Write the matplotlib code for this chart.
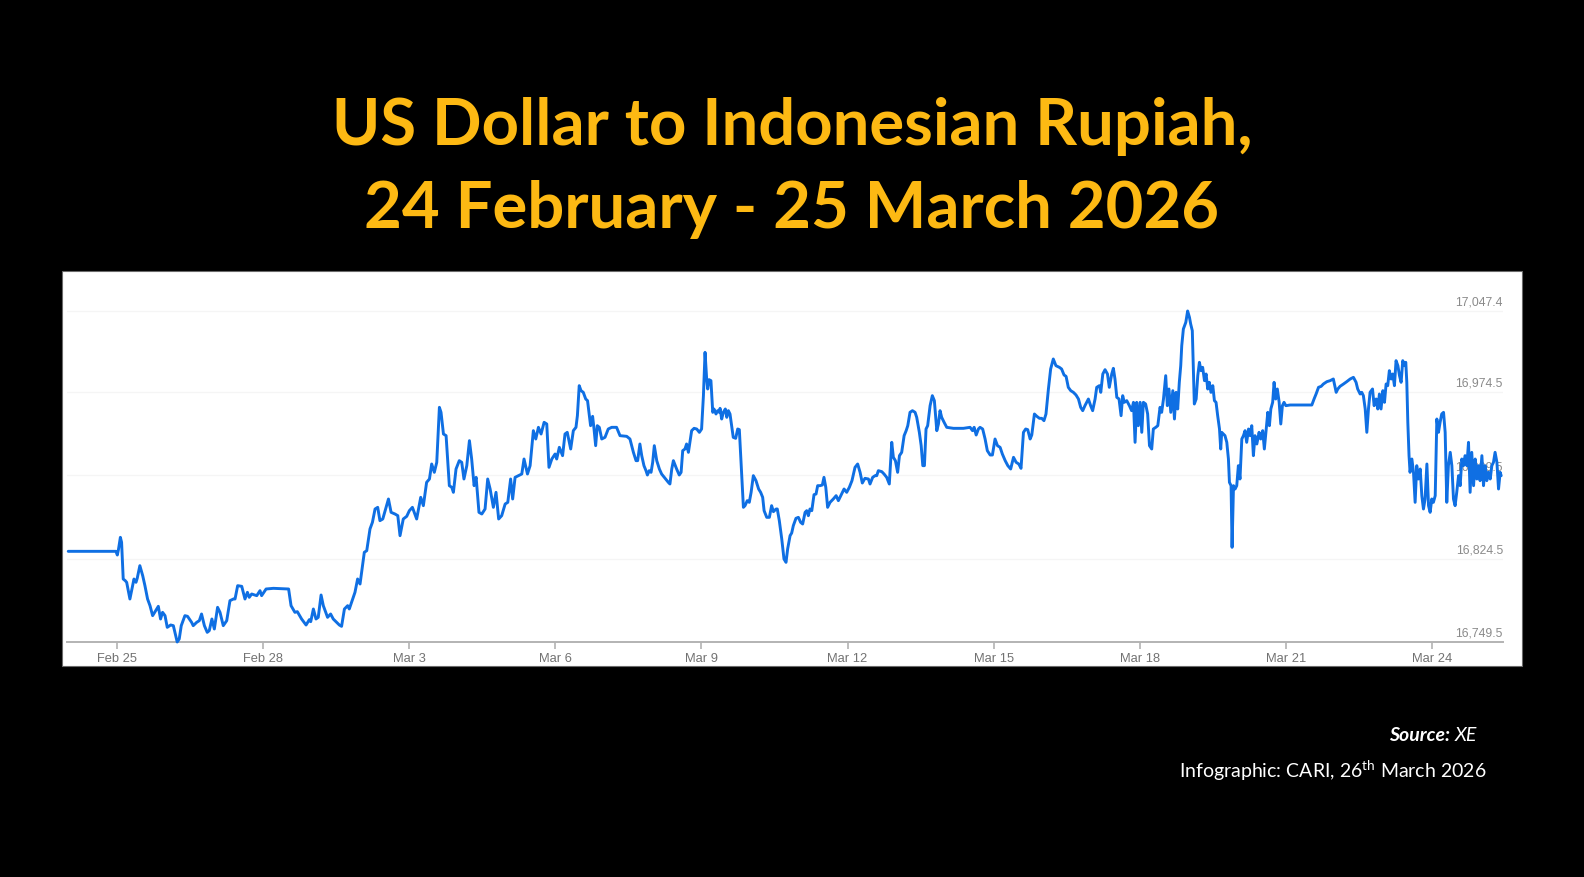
import matplotlib
matplotlib.use("Agg")
import matplotlib.pyplot as plt
from matplotlib.patches import Rectangle
import matplotlib.transforms as mtransforms
from datetime import datetime

# ---------------- data (hours since 24 Feb 2026 00:00, USD/IDR rate) ----------------
hours_wk1 = [0.0, 23.5, 24.2, 24.8, 25.7, 26.3, 27.1, 28.1, 28.8, 30.4, 32.4, 33.4, 34.0, 35.3, 36.7, 37.8,
             39.1, 40.3, 41.6, 43.6, 44.4, 45.5, 46.5, 47.7, 48.8, 50.5, 51.8, 53.7, 54.7, 55.7, 57.5, 58.8,
             60.8, 61.6, 63.3, 64.6, 65.7, 67.1, 68.5, 69.5, 70.8, 72.0, 73.6, 74.8, 76.4, 78.1, 79.7, 81.4,
             82.2, 83.5, 85.5, 87.1, 88.3, 89.2, 90.4, 92.9, 94.5, 95.3, 97.5, 101.1, 108.6, 109.8, 111.7,
             112.9, 115.0, 117.2, 118.8, 119.5, 120.8, 122.1, 123.2, 124.6, 125.7, 127.8, 129.3, 130.6,
             133.6, 134.7, 136.1, 137.7, 138.5, 140.2, 141.3, 142.6, 143.8, 145.9, 147.1, 148.7, 149.9,
             151.2, 152.5, 153.6, 155.0, 157.8, 159.1, 161.0, 162.4, 163.5, 165.1, 166.8, 168.1, 169.6,
             171.7, 173.7, 175.0, 176.6, 178.0, 179.1, 180.4, 181.6, 182.9, 183.7, 184.9, 186.2, 187.8,
             189.0, 189.8, 191.1, 192.7, 193.9, 195.0, 196.4, 197.7, 198.8, 200.0, 201.0, 202.4, 203.8,
             205.4, 206.7, 207.9, 209.5, 210.8, 212.1, 213.6, 215.3, 216.6, 218.0, 219.0, 220.2, 221.8,
             223.5, 224.6, 226.3, 227.6, 229.2, 230.4, 231.7, 233.0, 234.5, 235.8, 236.9, 238.3, 239.9,
             240.7, 242.0]
rates_wk1 = [16831.1, 16831.1, 16827.8, 16833.2, 16843.7, 16839.2, 16806.2, 16804.7, 16803.2, 16788.2,
             16806.2, 16803.2, 16806.8, 16818.2, 16809.2, 16800.2, 16788.2, 16782.2, 16773.2, 16779.2,
             16781.6, 16770.2, 16776.2, 16773.2, 16762.7, 16764.8, 16764.2, 16749.5, 16752.2, 16764.2,
             16773.2, 16772.6, 16767.2, 16764.2, 16767.2, 16768.7, 16774.7, 16764.2, 16758.2, 16759.7,
             16770.2, 16761.2, 16780.7, 16776.2, 16764.2, 16768.7, 16786.7, 16788.2, 16788.2, 16800.2,
             16799.6, 16788.2, 16794.2, 16789.7, 16792.7, 16791.2, 16795.7, 16791.2, 16797.2, 16797.8,
             16797.2, 16782.2, 16776.2, 16776.8, 16770.2, 16764.8, 16769.6, 16767.8, 16779.2, 16770.2,
             16771.7, 16791.8, 16782.2, 16771.7, 16774.7, 16770.2, 16764.8, 16763.6, 16779.2, 16782.2,
             16779.2, 16788.2, 16794.2, 16806.2, 16801.7, 16830.2, 16831.7, 16851.2, 16857.2, 16869.2,
             16870.7, 16858.7, 16860.2, 16878.2, 16866.2, 16864.7, 16863.2, 16845.2, 16860.2, 16862.6,
             16867.7, 16870.7, 16860.2, 16879.7, 16872.2, 16893.2, 16896.2, 16909.7, 16902.2, 16911.2,
             16960.7, 16956.2, 16936.7, 16935.2, 16890.2, 16888.7, 16884.2, 16905.2, 16912.7, 16911.2,
             16896.2, 16908.2, 16930.7, 16914.2, 16890.2, 16897.7, 16866.2, 16864.7, 16869.2, 16896.2,
             16887.2, 16870.7, 16884.2, 16860.2, 16863.2, 16873.7, 16875.2, 16896.2, 16878.2, 16897.7,
             16899.2, 16900.7, 16914.2, 16900.7, 16908.2, 16939.7, 16932.2, 16942.7, 16936.7, 16947.2,
             16945.7, 16906.7, 16914.2, 16918.7, 16914.2, 16924.7]

hours_wk2 = [243.6, 244.8, 245.9, 247.6, 248.9, 250.2, 250.9, 251.8, 252.7, 253.8, 255.0, 255.9, 257.4,
             258.4, 259.1, 259.9, 260.7, 261.7, 262.9, 264.5, 266.1, 267.8, 270.2, 271.9, 275.2, 276.8,
             278.5, 279.8, 280.6, 281.7, 282.6, 283.7, 284.7, 285.4, 286.3, 287.2, 288.0, 288.8, 290.0,
             291.3, 292.4, 294.1, 295.7, 296.5, 297.4, 298.2, 299.8, 301.1, 302.0, 302.8, 303.9, 304.7,
             305.6, 307.2, 308.4, 309.7, 311.0, 312.1, 313.0, 313.8, 314.6, 315.1, 315.8, 316.7, 317.6,
             318.2, 319.2, 320.0, 320.8, 321.2, 322.0, 322.8, 323.8, 324.5, 325.3, 326.1, 326.9, 327.7,
             328.9, 329.9, 330.7, 331.9, 332.7, 333.5, 334.6, 335.6, 336.5, 337.6, 338.9, 340.2, 341.2,
             342.2, 342.9, 344.2, 345.5, 346.6, 347.5, 348.8, 349.4, 350.4, 351.6, 352.7, 353.7, 354.5,
             355.7, 356.5, 357.3, 358.6, 359.8, 360.9, 361.9, 363.1, 363.9, 364.7, 365.5, 366.4, 367.5,
             368.5, 369.3, 370.5, 371.6, 372.4, 373.3, 374.2, 375.4, 377.0, 378.4, 379.5, 381.1, 382.3,
             383.6, 384.9, 386.2, 387.7, 389.0, 390.2, 391.3, 392.6, 394.3, 395.1, 396.4, 397.6, 398.4,
             399.2, 400.9, 402.0, 403.3, 404.6, 405.8, 406.6, 407.6, 408.7, 409.6, 410.7, 411.9, 412.9,
             413.7, 414.8, 416.0, 417.3, 418.1, 419.4, 420.3, 421.1, 421.9, 422.7, 423.5, 424.7, 425.8,
             426.8, 428.0, 428.8, 429.6, 430.4, 431.6, 432.9, 436.2, 441.1, 444.4, 445.6, 446.4, 447.4,
             448.5, 449.3, 450.6, 451.8, 452.9, 454.3, 455.4, 456.7, 457.9, 459.2, 460.3, 461.7, 463.0,
             464.4, 465.8, 467.1, 468.4, 469.5, 470.7, 471.8, 472.8, 474.0, 474.8, 476.1, 477.3, 478.6]
rates_wk2 = [16917.2, 16936.7, 16938.2, 16923.2, 16939.7, 16942.7, 16953.2, 16980.2, 16975.7, 16974.2,
             16968.2, 16966.7, 16944.2, 16952.6, 16941.2, 16926.2, 16944.2, 16942.7, 16932.2, 16933.7,
             16941.2, 16942.7, 16942.7, 16935.2, 16934.6, 16932.2, 16920.2, 16912.7, 16912.7, 16927.7,
             16917.2, 16908.2, 16903.7, 16899.8, 16903.7, 16902.2, 16911.2, 16926.2, 16912.7, 16905.2,
             16900.7, 16896.8, 16893.2, 16891.7, 16905.2, 16912.7, 16905.2, 16899.8, 16902.2, 16921.7,
             16923.2, 16927.7, 16920.2, 16939.7, 16941.8, 16941.2, 16938.2, 16941.2, 16971.2, 17010.2,
             16986.2, 16977.2, 16985.6, 16984.7, 16956.2, 16959.2, 16954.7, 16957.7, 16956.2, 16959.8,
             16950.2, 16956.2, 16959.2, 16951.7, 16957.7, 16954.7, 16944.2, 16933.7, 16932.8, 16941.2,
             16940.6, 16899.2, 16870.7, 16872.2, 16876.7, 16875.2, 16884.2, 16899.2, 16894.7, 16887.2,
             16884.2, 16879.7, 16867.7, 16861.7, 16861.7, 16872.2, 16866.8, 16869.2, 16869.2, 16858.7,
             16842.2, 16824.2, 16821.2, 16833.2, 16845.2, 16847.6, 16854.2, 16860.8, 16861.7, 16857.2,
             16855.7, 16866.2, 16867.7, 16863.2, 16869.2, 16867.7, 16882.1, 16882.7, 16890.2, 16890.2,
             16890.8, 16897.7, 16888.7, 16870.7, 16875.2, 16878.2, 16881.2, 16876.7, 16882.7, 16887.2,
             16884.2, 16888.7, 16894.7, 16906.7, 16909.7, 16902.2, 16892.6, 16896.8, 16896.2, 16891.7,
             16897.7, 16899.2, 16899.2, 16903.7, 16902.8, 16900.7, 16897.7, 16891.7, 16929.2, 16915.7,
             16912.7, 16902.2, 16917.2, 16920.2, 16935.2, 16939.7, 16944.2, 16956.2, 16957.7, 16956.2,
             16951.7, 16938.2, 16926.2, 16908.2, 16908.2, 16941.2, 16944.2, 16962.2, 16971.2, 16966.7,
             16939.7, 16945.7, 16957.7, 16951.7, 16947.2, 16942.7, 16941.8, 16941.8, 16942.7, 16939.7,
             16942.7, 16935.8, 16941.2, 16942.7, 16941.2, 16932.2, 16921.7, 16917.8, 16917.8, 16932.2,
             16926.2, 16924.7, 16918.7, 16912.7, 16908.2, 16905.2, 16915.7, 16911.2, 16909.7, 16905.8,
             16938.2, 16941.2, 16940.6, 16932.2, 16935.8, 16954.7, 16952.6, 16950.8]

hours_wk3 = [479.7, 480.8, 481.8, 483.0, 484.1, 485.4, 486.7, 488.4, 489.5, 490.7, 491.7, 492.8, 494.0,
             495.3, 496.6, 497.8, 498.9, 499.9, 501.0, 502.7, 503.8, 504.8, 506.0, 506.8, 508.1, 508.8,
             509.8, 510.9, 512.1, 513.0, 514.2, 515.0, 515.8, 516.7, 517.8, 518.8, 519.6, 520.4, 521.6,
             522.9, 524.0, 524.9, 525.7, 526.5, 527.3, 528.2, 529.0, 529.8, 530.9, 531.9, 532.8, 533.9,
             534.7, 535.9, 536.9, 538.0, 538.8, 539.7, 540.8, 541.6, 542.4, 543.3, 544.3, 545.1, 545.9,
             546.7, 547.5, 548.2, 548.7, 549.5, 550.7, 551.6, 552.5, 553.1, 553.9, 554.4, 554.9, 555.8,
             556.6, 557.4, 558.2, 559.0, 559.9, 560.7, 561.5, 562.3, 563.1, 564.0, 564.8, 565.6, 566.4,
             567.3, 567.9, 568.4, 569.2, 570.0, 570.9, 571.7, 572.2, 573.0, 573.5, 574.2, 575.0, 575.8,
             576.6, 577.4, 578.3, 579.1, 579.9, 580.7, 581.6, 582.4, 583.2, 584.0, 584.8, 585.7, 586.8,
             587.6, 588.6, 589.4, 590.3, 591.1, 591.9, 592.6, 593.5, 594.2, 595.0, 595.8, 596.7, 597.5,
             598.3, 599.1, 600.0]
rates_wk3 = [16950.8, 16948.7, 16954.7, 16977.2, 16995.2, 17004.2, 16998.2, 16996.7, 16995.2, 16989.8,
             16988.6, 16978.7, 16975.7, 16974.2, 16971.8, 16968.2, 16960.7, 16957.7, 16962.2, 16968.2,
             16962.2, 16957.7, 16968.2, 16978.7, 16980.2, 16974.2, 16990.7, 16994.6, 16990.7, 16978.7,
             16990.7, 16995.8, 16986.2, 16969.7, 16968.2, 16953.2, 16971.2, 16965.2, 16966.7, 16962.2,
             16957.7, 16965.2, 16929.2, 16965.2, 16944.2, 16965.2, 16938.2, 16965.2, 16963.7, 16954.7,
             16926.2, 16923.2, 16941.2, 16942.7, 16944.2, 16960.7, 16956.2, 16968.2, 16989.2, 16962.2,
             16977.2, 16956.2, 16975.7, 16950.2, 16974.2, 16959.2, 16983.2, 16998.2, 17016.2, 17031.2,
             17037.2, 17047.4, 17041.7, 17035.7, 17029.7, 16995.2, 16963.7, 16968.2, 16989.2, 17001.2,
             16993.7, 16996.7, 16984.7, 16990.7, 16977.2, 16983.2, 16974.2, 16980.2, 16966.7, 16965.2,
             16953.2, 16941.2, 16923.2, 16938.2, 16936.7, 16935.2, 16929.2, 16914.2, 16893.2, 16890.2,
             16834.7, 16890.2, 16887.2, 16890.2, 16908.2, 16896.2, 16932.2, 16935.2, 16939.7, 16929.2,
             16941.2, 16935.2, 16944.2, 16917.2, 16935.2, 16927.7, 16938.2, 16932.2, 16939.7, 16923.2,
             16941.2, 16956.2, 16944.2, 16959.2, 16965.2, 16983.2, 16968.2, 16977.2, 16965.2, 16945.7,
             16962.2, 16965.2, 16962.2]

hours_wk4 = [602.1, 607.0, 612.8, 613.9, 614.9, 616.1, 617.4, 618.5, 620.2, 621.8, 623.4, 624.8, 625.6,
             626.7, 628.4, 630.0, 631.7, 633.3, 634.6, 635.4, 636.6, 637.4, 638.2, 639.1, 639.9, 640.7,
             641.5, 642.7, 643.5, 644.5, 645.3, 646.1, 646.9, 647.8, 648.6, 649.4, 650.2, 651.0, 651.9,
             652.7, 653.5, 654.3, 655.2, 656.0, 656.8, 657.6, 658.4, 659.1, 659.6, 660.1, 660.7, 661.2,
             662.1, 662.9, 663.7, 664.5, 665.3, 666.2, 667.0, 667.8, 668.6, 669.5, 670.3, 671.1, 671.9,
             672.7, 673.6, 674.4, 675.2, 676.0, 676.8, 677.7, 678.5, 679.3, 680.1, 681.0, 681.8, 682.6,
             683.4, 684.2, 685.1, 685.9, 686.7, 687.5, 688.3, 689.2, 690.0, 690.8, 691.6, 692.5, 693.3,
             694.1, 694.9, 695.7, 696.6, 697.4, 698.2, 699.0, 699.8, 700.7, 701.5, 702.3, 703.1, 704.0,
             704.8, 705.6, 706.1]
rates_wk4 = [16962.8, 16962.8, 16962.8, 16968.2, 16972.7, 16978.7, 16979.6, 16981.7, 16983.8, 16984.7,
             16986.2, 16974.2, 16977.2, 16979.6, 16981.7, 16983.8, 16986.2, 16987.7, 16983.2, 16977.2,
             16972.7, 16974.2, 16971.2, 16959.2, 16938.2, 16959.2, 16974.2, 16977.2, 16962.2, 16968.2,
             16959.2, 16972.7, 16959.2, 16975.7, 16965.2, 16981.7, 16980.2, 16993.7, 16986.2, 16990.7,
             16980.2, 17002.7, 16998.2, 16989.2, 16983.2, 17002.7, 16998.2, 17001.2, 16983.2, 16947.2,
             16917.2, 16902.2, 16914.2, 16902.2, 16875.2, 16908.2, 16896.2, 16905.2, 16881.2, 16869.2,
             16878.2, 16909.7, 16872.2, 16866.2, 16878.2, 16875.2, 16881.2, 16950.2, 16938.2, 16947.2,
             16954.7, 16956.2, 16938.2, 16875.2, 16908.2, 16920.2, 16908.2, 16878.2, 16872.2, 16884.2,
             16899.2, 16890.2, 16914.2, 16908.2, 16917.2, 16908.2, 16929.2, 16884.2, 16920.2, 16890.2,
             16914.2, 16896.2, 16908.2, 16894.7, 16917.2, 16890.2, 16908.2, 16894.7, 16902.2, 16896.2,
             16908.2, 16911.2, 16920.2, 16911.2, 16887.2, 16902.2, 16899.2]

x_tick_labels = ["Feb 25", "Feb 28", "Mar 3", "Mar 6", "Mar 9", "Mar 12", "Mar 15", "Mar 18", "Mar 21", "Mar 24"]
x_tick_dates = [datetime(2026, 2, 25), datetime(2026, 2, 28), datetime(2026, 3, 3), datetime(2026, 3, 6),
                datetime(2026, 3, 9), datetime(2026, 3, 12), datetime(2026, 3, 15), datetime(2026, 3, 18),
                datetime(2026, 3, 21), datetime(2026, 3, 24)]
y_tick_values = [16749.5, 16824.5, 16899.5, 16974.5, 17047.4]
y_tick_labels = ["16,749.5", "16,824.5", "16,899.5", "16,974.5", "17,047.4"]

title_line1 = "US Dollar to Indonesian Rupiah,"
title_line2 = "24 February - 25 March 2026"
start_date = datetime(2026, 2, 24)

# ---------------- assemble ----------------
hours = hours_wk1 + hours_wk2 + hours_wk3 + hours_wk4
rates = rates_wk1 + rates_wk2 + rates_wk3 + rates_wk4
assert len(hours) == len(rates), (len(hours), len(rates))
tick_hours = [(d - start_date).total_seconds() / 3600 for d in x_tick_dates]

plt.rcParams["mathtext.fontset"] = "custom"
plt.rcParams["mathtext.rm"] = "Lato"

W, H = 1584, 878
fig = plt.figure(figsize=(W / 100, H / 100), dpi=100, facecolor="black")

# white chart panel (behind the axes)
fig.patches.append(Rectangle((62 / W, 1 - 667 / H), (1522 - 62) / W, (667 - 272) / H,
                             transform=fig.transFigure, facecolor="white",
                             edgecolor="#6a6a6a", linewidth=0.8, zorder=-5))

ax = fig.add_axes([67 / W, 1 - 643 / H, (1503 - 67) / W, (643 - 300) / H])
ax.set_zorder(5)
ax.set_facecolor("none")
ax.set_xlim(-0.6, 707.0)
ax.set_ylim(16749.5, 17058.2)

for v in y_tick_values[1:]:
    ax.axhline(v, color="#f5f5f5", linewidth=1.0, zorder=1)

ylab_trans = mtransforms.blended_transform_factory(ax.transAxes, ax.transData)
ylab_off = mtransforms.offset_copy(ylab_trans, fig=fig, x=0, y=3, units="dots")
for v, lab in zip(y_tick_values, y_tick_labels):
    ax.text(1.0, v, lab, transform=ylab_off, ha="right", va="bottom",
            fontsize=8.8, color="#8a8a8a", family="Liberation Sans", zorder=2)

ax.plot(hours, rates, color="#0f6fe3", linewidth=2.1, solid_joinstyle="round",
        solid_capstyle="round", clip_on=False, zorder=3)

for s in ["top", "right", "left"]:
    ax.spines[s].set_visible(False)
ax.spines["bottom"].set_color("#b3b3b3")
ax.spines["bottom"].set_linewidth(1.4)
ax.set_yticks([])
ax.set_xticks(tick_hours)
ax.set_xticklabels(x_tick_labels, fontsize=9.3, color="#727272", family="Liberation Sans")
ax.tick_params(axis="x", direction="out", length=5, width=1.2, color="#b3b3b3", pad=2)

# title
fig.text(0.5, 1 - 144.5 / H, title_line1, ha="center", va="baseline",
         fontsize=47, fontweight="bold", color="#FDB913", family="Lato")
fig.text(0.5, 1 - 228.5 / H, title_line2, ha="center", va="baseline",
         fontsize=47, fontweight="bold", color="#FDB913", family="Lato")

# source / credit
xe = fig.text(1477 / W, 1 - 741.5 / H, "XE", ha="right", va="baseline", fontsize=14,
              fontstyle="italic", color="white", family="Lato")
fig.canvas.draw()
bb = xe.get_window_extent()
fig.text((bb.x0 - 5) / W, 1 - 741.5 / H, "Source:", ha="right", va="baseline", fontsize=14,
         fontstyle="italic", fontweight="bold", color="white", family="Lato")
fig.text(1486 / W, 1 - 778 / H, r"Infographic: CARI, 26$^{\mathregular{th}}$ March 2026",
         ha="right", va="baseline", fontsize=14, color="white", family="Lato")

fig.savefig("out.png", dpi=100, facecolor="black")
